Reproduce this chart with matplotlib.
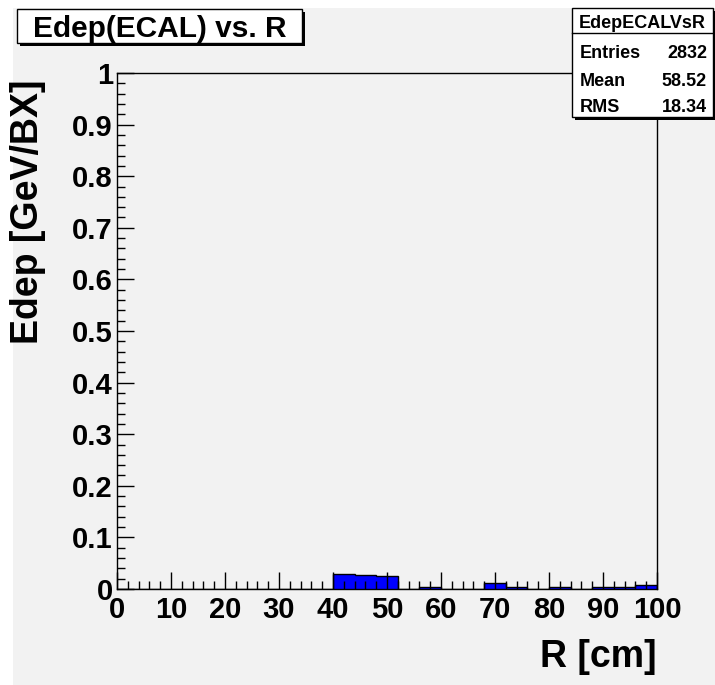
import matplotlib
matplotlib.use("Agg")
import matplotlib.pyplot as plt
from matplotlib.patches import Rectangle
from matplotlib.lines import Line2D
from matplotlib.ticker import MultipleLocator, FuncFormatter
import numpy

plt.rcParams["font.family"] = ["Liberation Sans", "DejaVu Sans"]
plt.rcParams["font.weight"] = "bold"

# histogram data (R bins of 4 cm)
bin_edges = [0, 4, 8, 12, 16, 20, 24, 28, 32, 36, 40, 44, 48, 52,
             56, 60, 64, 68, 72, 76, 80, 84, 88, 92, 96, 100]
edep = [0, 0, 0, 0, 0, 0, 0, 0, 0, 0,
        0.030, 0.028, 0.025, 0,
        0.004, 0, 0, 0.011, 0.004, 0,
        0.004, 0, 0.003, 0.003, 0.007]

hist_name = "EdepECALVsR"
stat_names = ["Entries", "Mean", "RMS"]
stat_values = ["2832", "58.52", "18.34"]

W, H = 715, 685
GREY = "#f2f2f2"


def fx(x):
    return x / W


def fy(y):
    return 1 - y / H


fig = plt.figure(figsize=(W / 100, H / 100), dpi=100, facecolor="white")
fig.patches.append(Rectangle((fx(13), 0), 1 - fx(13), fy(8), transform=fig.transFigure,
                             facecolor=GREY, edgecolor="none", zorder=-10))

ax = fig.add_axes([fx(117), fy(589), (657 - 117) / W, (589 - 73) / H])
ax.set_facecolor(GREY)
ax.stairs(edep, bin_edges, fill=True, facecolor="#0000ff", edgecolor="none")
ax.stairs(edep, bin_edges, color="black", linewidth=1.0, baseline=0)

ax.set_xlim(0, 100)
ax.set_ylim(0, 1)
ax.xaxis.set_major_locator(MultipleLocator(10))
ax.xaxis.set_minor_locator(MultipleLocator(2))
ax.yaxis.set_major_locator(MultipleLocator(0.1))
ax.yaxis.set_minor_locator(MultipleLocator(0.02))
ax.yaxis.set_major_formatter(FuncFormatter(lambda v, p: "{:g}".format(round(v, 2))))
ax.xaxis.set_major_formatter(FuncFormatter(lambda v, p: "{:g}".format(v)))
ax.tick_params(which="both", direction="in", top=False, right=False, width=1.0, color="black")
ax.tick_params(which="major", length=12)
ax.tick_params(which="minor", length=6)
ax.tick_params(axis="x", which="major", labelsize=21, pad=5)
ax.tick_params(axis="y", which="major", labelsize=21, pad=3)
for lab in ax.get_xticklabels() + ax.get_yticklabels():
    lab.set_fontweight("bold")
for sp in ax.spines.values():
    sp.set_linewidth(1.0)
    sp.set_color("black")

# axis titles
fig.text(fx(657), fy(667), "R [cm]", ha="right", va="baseline", fontsize=27, fontweight="bold")
fig.text(fx(28), fy(80), "Edep [GeV/BX]", ha="center", va="top", rotation=90,
         fontsize=27, fontweight="bold")

# title box
fig.patches.append(Rectangle((fx(20), fy(46)), (302 - 17) / W, (43 - 9) / H,
                             transform=fig.transFigure, facecolor="black", edgecolor="none", zorder=5))
fig.patches.append(Rectangle((fx(17), fy(43)), (302 - 17) / W, (43 - 9) / H,
                             transform=fig.transFigure, facecolor="white", edgecolor="black",
                             linewidth=1.0, zorder=6))
fig.text(fx(159.5), fy(26), "Edep(ECAL) vs. R", ha="center", va="center_baseline",
         fontsize=21.5, fontweight="bold", zorder=7)

# stats box
bx0, bx1, by0, by1 = 572, 713, 8, 117
fig.patches.append(Rectangle((fx(bx0 + 3), fy(by1 + 3)), (bx1 - bx0) / W, (by1 - by0) / H,
                             transform=fig.transFigure, facecolor="black", edgecolor="none", zorder=5))
fig.patches.append(Rectangle((fx(bx0), fy(by1)), (bx1 - bx0) / W, (by1 - by0) / H,
                             transform=fig.transFigure, facecolor="white", edgecolor="black",
                             linewidth=1.0, zorder=6))
fig.lines.append(Line2D([fx(bx0), fx(bx1)], [fy(33), fy(33)], transform=fig.transFigure,
                        color="black", linewidth=1.0, zorder=7))
fig.text(fx((bx0 + bx1) / 2), fy(21), hist_name, ha="center", va="center_baseline",
         fontsize=13, fontweight="bold", zorder=8)
row_y = [52, 79, 106]
for name, val, yy in zip(stat_names, stat_values, row_y):
    fig.text(fx(580), fy(yy), name, ha="left", va="center_baseline", fontsize=13,
             fontweight="bold", zorder=8)
    fig.text(fx(707), fy(yy), val, ha="right", va="center_baseline", fontsize=13,
             fontweight="bold", zorder=8)

fig.savefig("out.png", dpi=100, facecolor=fig.get_facecolor())
